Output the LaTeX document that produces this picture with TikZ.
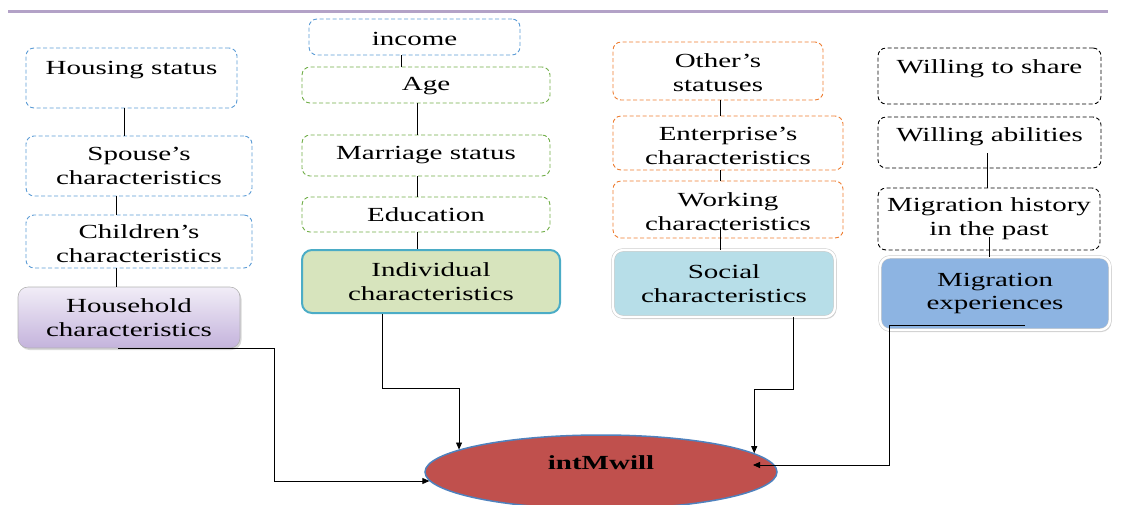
\documentclass[tikz,border=0pt]{standalone}
\usepackage{fontspec}
\setmainfont{Liberation Serif}[FakeStretch=1.45]
\usetikzlibrary{shapes.geometric,arrows.meta,shadows}
\definecolor{dblue}{HTML}{5B9BD5}
\definecolor{dgreen}{HTML}{70AD47}
\definecolor{dorange}{HTML}{ED7D31}
\definecolor{topline}{HTML}{B3A2C7}
\definecolor{hhtop}{HTML}{F1EDF7}
\definecolor{hhbot}{HTML}{C4B3DC}
\definecolor{indfill}{HTML}{D7E4BD}
\definecolor{indline}{HTML}{4BACC6}
\definecolor{socfill}{HTML}{B7DEE8}
\definecolor{mefill}{HTML}{8DB4E2}
\definecolor{ellfill}{HTML}{C0504D}
\definecolor{ellline}{HTML}{4F81BD}
\newcommand\liftby[2]{\raisebox{#1}[\height][\depth]{#2}}
\begin{document}
\begin{tikzpicture}[x=1pt,y=-1pt,
  txtfont/.style={font=\fontsize{20}{24}\selectfont, align=center, inner sep=0pt},
  wh/.style 2 args={minimum width=#1, minimum height=#2},
  dbox/.style={txtfont, draw=#1, rounded corners=8pt, line width=0.9pt, dash pattern=on 4pt off 2.5pt},
  hhbox/.style={txtfont, draw=black!30, line width=0.6pt, rounded corners=10pt,
    top color=hhtop, bottom color=hhbot,
    drop shadow={opacity=0.3, shadow xshift=1.5pt, shadow yshift=-2pt}},
  indbox/.style={txtfont, draw=indline, line width=2pt, fill=indfill, rounded corners=10pt},
  whbox/.style={txtfont, draw=black!22, line width=0.5pt, double=white, double distance=2.4pt,
    fill=#1, rounded corners=10pt,
    drop shadow={opacity=0.3, shadow xshift=1.5pt, shadow yshift=-2pt}},
  conn/.style={draw=black, line width=0.8pt},
  arr/.style={conn, -{Triangle[length=7pt,width=6pt]}}
]
\useasboundingbox (0,0) rectangle (1129,504);
% top rule
\draw[topline, line width=3pt] (8,11) -- (1108,11);

% column 1
\node[dbox=dblue, wh={211pt}{60pt}] (hous) at (131.5,78) {\liftby{8pt}{Housing status}};
\node[dbox=dblue, wh={226pt}{60pt}] (sps) at (139,166) {Spouse’s\\characteristics};
\node[dbox=dblue, wh={226pt}{53pt}] (chd) at (139,241.5) {\liftby{-2pt}{Children’s}\\\liftby{-2pt}{characteristics}};
\node[hhbox, wh={222pt}{61pt}] (hh) at (129,317.5) {Household\\characteristics};

% column 2
\node[dbox=dblue, wh={211pt}{36pt}] (inc) at (414.5,37) {\liftby{-1.5pt}{income}};
\node[dbox=dgreen, wh={248pt}{36pt}] (age) at (426,85) {\liftby{-1.5pt}{Age}};
\node[dbox=dgreen, wh={248pt}{41pt}] (mar) at (426,155.5) {Marriage status};
\node[dbox=dgreen, wh={248pt}{35pt}] (edu) at (426,214.5) {Education};
\node[indbox, wh={258pt}{63pt}] (ind) at (431,281.5) {Individual\\characteristics};

% column 3
\node[dbox=dorange, wh={210pt}{58pt}] (oth) at (718,71) {\liftby{-2pt}{Other’s}\\\liftby{-2pt}{statuses}};
\node[dbox=dorange, wh={230pt}{54pt}] (ent) at (728,143) {\liftby{-3pt}{Enterprise’s}\\\liftby{-3pt}{characteristics}};
\node[dbox=dorange, wh={230pt}{57pt}] (wrk) at (728,209.5) {\liftby{-2pt}{Working}\\\liftby{-2pt}{characteristics}};
\node[whbox=socfill, wh={222pt}{67pt}] (soc) at (724,283.5) {Social\\characteristics};

% column 4
\node[dbox=black, wh={223pt}{56pt}] (wsh) at (989.5,76) {\liftby{7pt}{Willing to share}};
\node[dbox=black, wh={223pt}{51pt}] (wab) at (989.5,142.5) {\liftby{6pt}{Willing abilities}};
\node[dbox=black, wh={222pt}{62pt}] (mh) at (989,219) {Migration history\\in the past};
\node[whbox=mefill, wh={230pt}{73pt}] (me) at (995,293.5) {Migration\\experiences};

% target
\node[ellipse, draw=ellline, line width=1.5pt, fill=ellfill, minimum width=352pt, minimum height=74pt,
  inner sep=0pt, font=\fontsize{20}{24}\selectfont\bfseries] (ell) at (601,472) {\liftby{9pt}{intMwill}};

% helper coordinates
\coordinate (v116) at (116,0);
\coordinate (v118) at (118,0);
\coordinate (v124) at (124,0);
\coordinate (v274) at (274,0);
\coordinate (v382) at (382,0);
\coordinate (v401) at (401,0);
\coordinate (v417) at (417,0);
\coordinate (v720) at (720,0);
\coordinate (v793) at (793,0);
\coordinate (v889) at (889,0);
\coordinate (v987) at (987,0);
\coordinate (v989) at (989,0);
\coordinate (v1025) at (1025,0);
\coordinate (h388) at (0,388);
\coordinate (h389) at (0,389);
\coordinate (mtip) at ([xshift=152pt,yshift=7pt]ell.center);

% vertical links
\draw[conn] (hous.south -| v124) -- (sps.north -| v124);
\draw[conn] (sps.south -| v116) -- (chd.north -| v116);
\draw[conn] (chd.south -| v116) -- (hh.north -| v116);
\draw[conn] (inc.south -| v401) -- (age.north -| v401);
\draw[conn] (age.south -| v417) -- (mar.north -| v417);
\draw[conn] (mar.south -| v417) -- (edu.north -| v417);
\draw[conn] (edu.south -| v417) -- (ind.north -| v417);
\draw[conn] (oth.south -| v720) -- (ent.north -| v720);
\draw[conn] (ent.south -| v720) -- (wrk.north -| v720);
\draw[conn] (wrk.south -| v720) ++(0,-11) -- (soc.north -| v720);
\draw[conn] (wab.south -| v987) ++(0,-15) -- (mh.north -| v987);
\draw[conn] (mh.south -| v989) ++(0,-13) -- (me.north -| v989);

% arrows to target
\draw[arr] (hh.south -| v118) -- (hh.south -| v274) |- (ell.183);
\draw[arr] (ind.south -| v382) -- (v382 |- h388) -| (ell.171);
\draw[arr] (soc.south -| v793) -- (v793 |- h389) -| (ell.7);
\draw[arr] (me.south -| v1025) ++(0,-5) -| (v889 |- mtip) -- (mtip);
\end{tikzpicture}
\end{document}
